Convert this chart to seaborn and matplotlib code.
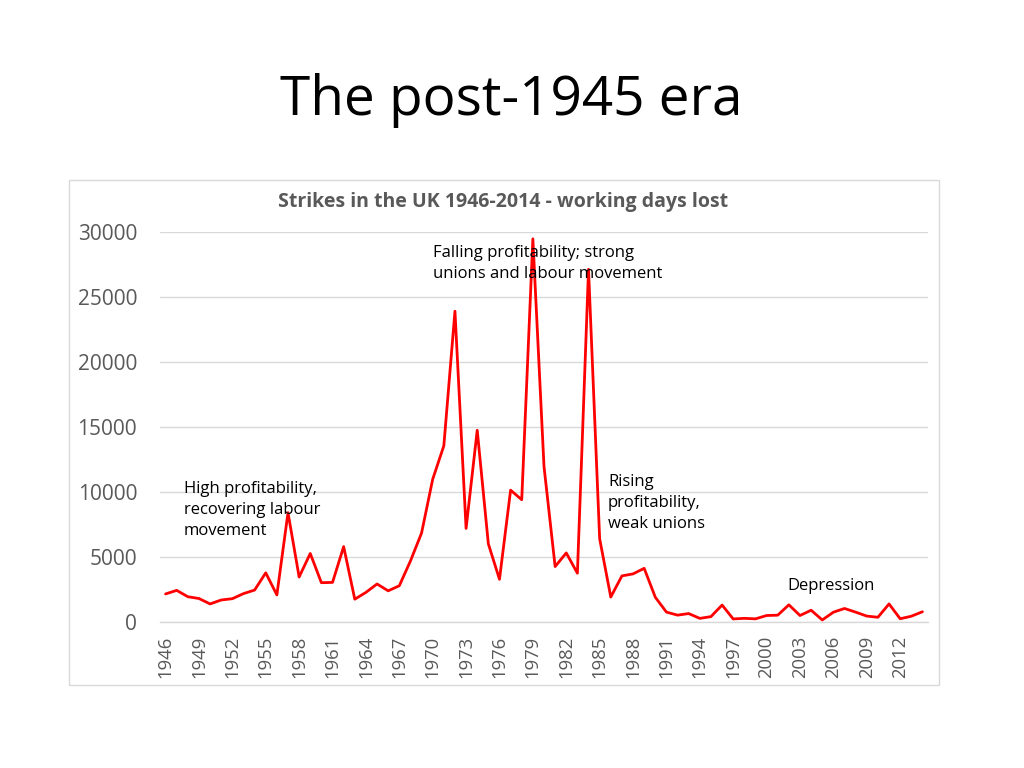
import numpy as np
import pandas as pd
import matplotlib
matplotlib.use("Agg")
import matplotlib.pyplot as plt
import seaborn as sns
from matplotlib.patches import Rectangle

# Data: working days lost (thousands), UK 1946-2014
years = list(range(1946, 2015))
days_lost = [2158, 2433, 1944, 1807, 1389, 1694, 1792, 2184, 2457, 3781,
             2083, 8412, 3462, 5270, 3024, 3046, 5798, 1755, 2277, 2925,
             2398, 2787, 4690, 6846, 10980, 13551, 23909, 7197, 14750, 6012,
             3284, 10142, 9405, 29474, 11964, 4266, 5313, 3754, 27135, 6402,
             1920, 3546, 3702, 4128, 1903, 761, 528, 649, 278, 415,
             1303, 235, 282, 242, 499, 525, 1323, 499, 905, 157,
             755, 1041, 759, 455, 365, 1390, 249, 444, 788]
tick_years = list(range(1946, 2015, 3))
y_ticks = [0, 5000, 10000, 15000, 20000, 25000, 30000]

df = pd.DataFrame({"year": years, "days": days_lost})

sns.set_theme(style="white")
plt.rcParams['font.family'] = ['Open Sans', 'DejaVu Sans']

W, H = 1024, 768
fig = plt.figure(figsize=(W / 100, H / 100), dpi=100)
fig.patch.set_facecolor("white")

# chart frame
fig.patches.append(Rectangle((69 / W, 1 - 685 / H), (939 - 69) / W, (685 - 180) / H,
                             transform=fig.transFigure, fill=False,
                             edgecolor="#D9D9D9", linewidth=1.0))

ax = fig.add_axes([160 / W, 1 - 622 / H, (928 - 160) / W, (622 - 232) / H])
sns.lineplot(data=df, x="year", y="days", color="#FF0000", linewidth=2.0, ax=ax)

ax.set_xlim(1945.5, 2014.5)
ax.set_ylim(0, 30000)
ax.set_yticks(y_ticks)
ax.set_xticks(tick_years)
ax.set_xticklabels([str(t) for t in tick_years], rotation=90)
ax.tick_params(axis="y", labelsize=15, labelcolor="#595959", pad=16.5, length=0)
ax.tick_params(axis="x", labelsize=13.3, labelcolor="#595959", pad=10, length=0)
ax.set_xlabel("")
ax.set_ylabel("")
ax.grid(axis="y", color="#D9D9D9", linewidth=1.0)
ax.set_axisbelow(True)
for s in ["top", "right", "left"]:
    ax.spines[s].set_visible(False)
ax.spines["bottom"].set_color("#D9D9D9")
ax.spines["bottom"].set_linewidth(1.0)

# slide title and chart title
fig.text(511 / W, 1 - 101 / H, "The post-1945 era", ha="center", va="center",
         fontsize=39.5, color="black")
fig.text(503 / W, 1 - 202 / H, "Strikes in the UK 1946-2014 - working days lost",
         ha="center", va="center", fontsize=14, fontweight="bold", color="#595959")

# annotations
note_kw = dict(fontsize=12, color="black", ha="left", va="top", linespacing=1.4)
fig.text(433 / W, 1 - 245 / H, "Falling profitability; strong\nunions and labour movement", **note_kw)
fig.text(184 / W, 1 - 481 / H, "High profitability,\nrecovering labour\nmovement", **note_kw)
fig.text(608 / W, 1 - 474 / H, "Rising\nprofitability,\nweak unions", **note_kw)
fig.text(787 / W, 1 - 578 / H, "Depression", **note_kw)

fig.savefig("out.png", dpi=100)
